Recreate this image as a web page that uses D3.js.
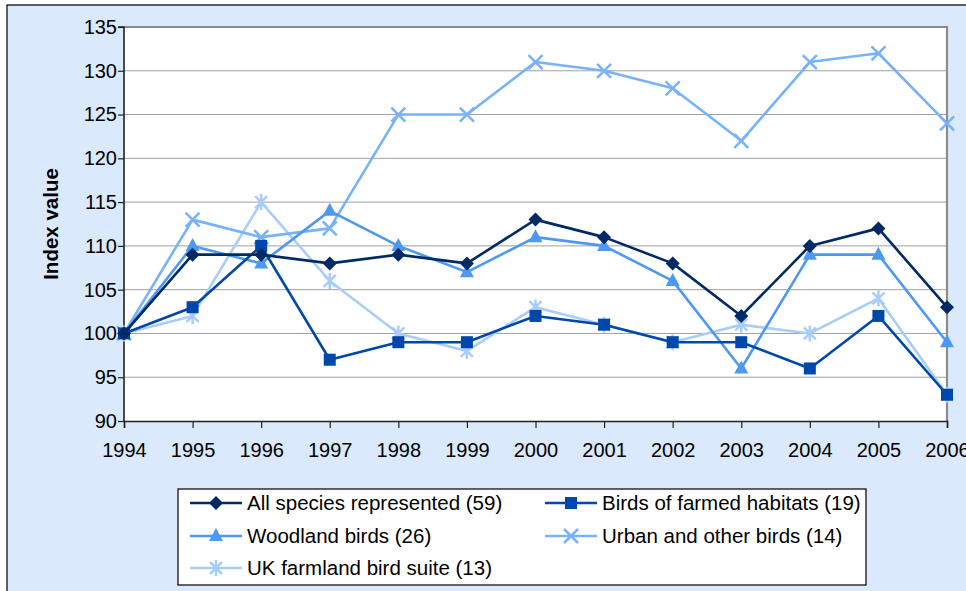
<!DOCTYPE html>
<html lang="en">
<head>
<meta charset="utf-8" />
<title>Bird index</title>
<style>
body { margin:0; background:#fff; }
svg text { font-family: "Liberation Sans", Arial, sans-serif; fill:#000; }
</style>
</head>
<body>
<div id="chart"></div>
<script src="https://cdnjs.cloudflare.com/ajax/libs/d3/7.8.5/d3.min.js"></script>
<script type="text/javascript">
// data
var years = [1994,1995,1996,1997,1998,1999,2000,2001,2002,2003,2004,2005,2006];
var allSpecies = [100,109,109,108,109,108,113,111,108,102,110,112,103];
var farmed     = [100,103,110,97,99,99,102,101,99,99,96,102,93];
var woodland   = [100,110,108,114,110,107,111,110,106,96,109,109,99];
var urban      = [100,113,111,112,125,125,131,130,128,122,131,132,124];
var ukFarmland = [100,102,115,106,100,98,103,101,99,101,100,104,93];
var yTicks = [90,95,100,105,110,115,120,125,130,135];

var series = [
  {name:"All species represented (59)", values:allSpecies, color:"#002a66", marker:"diamond"},
  {name:"Birds of farmed habitats (19)", values:farmed, color:"#0047ab", marker:"square"},
  {name:"Woodland birds (26)", values:woodland, color:"#4d98f2", marker:"triangle"},
  {name:"Urban and other birds (14)", values:urban, color:"#77b2fb", marker:"x"},
  {name:"UK farmland bird suite (13)", values:ukFarmland, color:"#a9cdfa", marker:"star"}
];

var W = 966, H = 591;
var plotL = 124, plotR = 947, plotT = 27, plotB = 421;

var svg = d3.select("#chart").append("svg")
    .attr("width", W)
    .attr("height", H);

// outer frame
svg.append("rect")
   .attr("x", 7).attr("y", 5)
   .attr("width", W).attr("height", H)
   .attr("fill", "#dbe9fc")
   .attr("stroke", "#000").attr("stroke-width", 1.2);

var x = d3.scaleLinear().domain([1994, 2006]).range([plotL, plotR]);
var y = d3.scaleLinear().domain([90, 135]).range([plotB, plotT]);

// plot area
svg.append("rect")
   .attr("x", plotL).attr("y", plotT)
   .attr("width", plotR - plotL).attr("height", plotB - plotT)
   .attr("fill", "#fff");

// gridlines
svg.append("g").selectAll("line")
   .data(yTicks.slice(1))
   .enter().append("line")
   .attr("x1", plotL).attr("x2", plotR)
   .attr("y1", function(d){ return y(d); })
   .attr("y2", function(d){ return y(d); })
   .attr("stroke", "#a0a0a0").attr("stroke-width", 1);

// top / right border
svg.append("path")
   .attr("d", "M" + plotL + "," + plotT + "H" + plotR + "V" + plotB)
   .attr("fill", "none").attr("stroke", "#8c8c8c").attr("stroke-width", 2.2);

// axes
var yAxis = d3.axisLeft(y).tickValues(yTicks).tickSize(6).tickPadding(1);
var gy = svg.append("g").attr("transform", "translate(" + plotL + ",0)").call(yAxis);
var xAxis = d3.axisBottom(x).tickValues(years).tickFormat(d3.format("d")).tickSize(7).tickPadding(15);
var gx = svg.append("g").attr("transform", "translate(0," + plotB + ")").call(xAxis);
[gx, gy].forEach(function(g){
  g.select(".domain").attr("stroke", "#222").attr("stroke-width", 1.6);
  g.selectAll(".tick line").attr("stroke", "#222").attr("stroke-width", 1.2);
  g.selectAll(".tick text").attr("font-size", 20).attr("fill", "#000")
   .style("font-family", "'Liberation Sans', Arial, sans-serif");
});
gy.select(".domain").attr("d", "M-6," + y(135) + "H0V" + plotB);

svg.append("text")
   .attr("transform", "translate(58," + ((plotT + plotB) / 2) + ") rotate(-90)")
   .attr("text-anchor", "middle")
   .attr("font-size", 20.5).attr("font-weight", "bold")
   .text("Index value");

// markers
function drawMarker(g, type, color, cx, cy) {
  if (type == "diamond") {
    g.append("path").attr("d", "M" + cx + "," + (cy-7) + "L" + (cx+7) + "," + cy + "L" + cx + "," + (cy+7) + "L" + (cx-7) + "," + cy + "Z")
     .attr("fill", color);
  } else if (type == "square") {
    g.append("rect").attr("x", cx-6).attr("y", cy-6).attr("width", 12).attr("height", 12).attr("fill", color);
  } else if (type == "triangle") {
    g.append("path").attr("d", "M" + cx + "," + (cy-8) + "L" + (cx+7) + "," + (cy+5) + "L" + (cx-7) + "," + (cy+5) + "Z")
     .attr("fill", color);
  } else if (type == "x") {
    g.append("path").attr("d", "M" + (cx-7) + "," + (cy-7) + "L" + (cx+7) + "," + (cy+7) + "M" + (cx+7) + "," + (cy-7) + "L" + (cx-7) + "," + (cy+7))
     .attr("stroke", color).attr("stroke-width", 2.5).attr("fill", "none");
  } else if (type == "star") {
    g.append("path").attr("d", "M" + (cx-6) + "," + (cy-6) + "L" + (cx+6) + "," + (cy+6) + "M" + (cx+6) + "," + (cy-6) + "L" + (cx-6) + "," + (cy+6) + "M" + cx + "," + (cy-8) + "L" + cx + "," + (cy+8))
     .attr("stroke", color).attr("stroke-width", 2.5).attr("fill", "none");
  }
}

var line = d3.line()
    .x(function(d, i){ return x(years[i]); })
    .y(function(d){ return y(d); });

// draw in reverse so the darker series sit on top
series.slice().reverse().forEach(function(s){
  var g = svg.append("g");
  g.append("path").attr("d", line(s.values))
   .attr("fill", "none").attr("stroke", s.color).attr("stroke-width", 2.6)
   .attr("stroke-linejoin", "round");
  s.values.forEach(function(v, i){ drawMarker(g, s.marker, s.color, x(years[i]), y(v)); });
});

// legend
var lg = svg.append("g");
lg.append("rect")
   .attr("x", 178).attr("y", 489)
   .attr("width", 688).attr("height", 96)
   .attr("fill", "#fff").attr("stroke", "#000").attr("stroke-width", 1.2);
var legendPos = [[190, 503], [545, 503], [190, 536], [545, 536], [190, 568]];
series.forEach(function(s, i){
  var lx = legendPos[i][0], ly = legendPos[i][1];
  lg.append("line").attr("x1", lx).attr("x2", lx + 52).attr("y1", ly).attr("y2", ly)
    .attr("stroke", s.color).attr("stroke-width", 2.6);
  drawMarker(lg, s.marker, s.color, lx + 26, ly);
  lg.append("text").attr("x", lx + 57).attr("y", ly + 7)
    .attr("font-size", 20.5).text(s.name);
});
</script>
</body>
</html>
